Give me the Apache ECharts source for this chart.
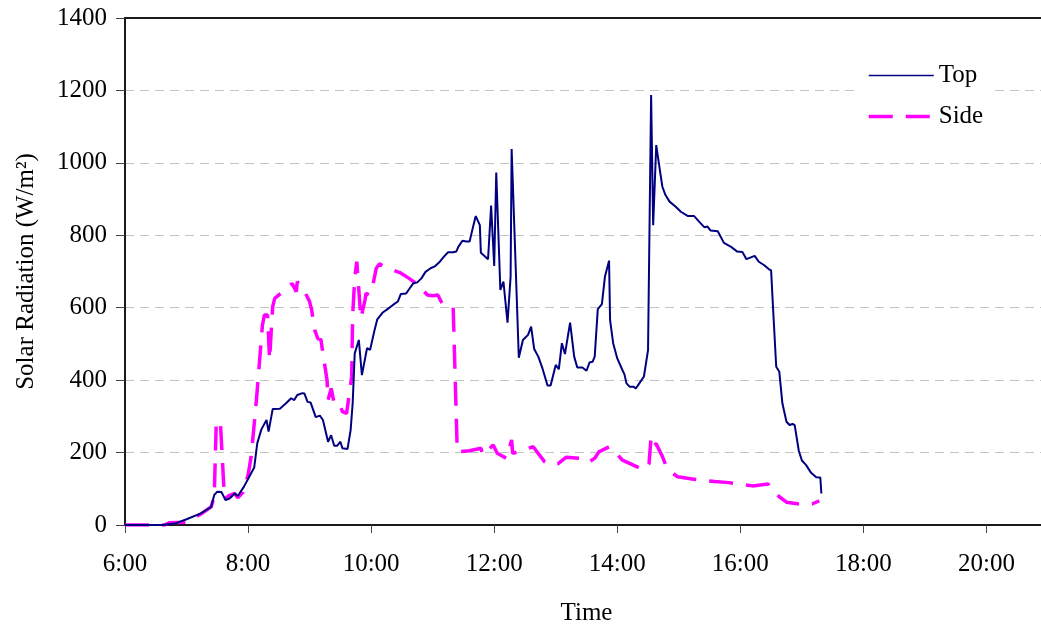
<!DOCTYPE html>
<html>
<head>
<meta charset="utf-8">
<script src="https://cdn.jsdelivr.net/npm/echarts@6/dist/echarts.min.js"></script>
<style>
  html, body { margin: 0; padding: 0; background: #fff; }
  #chart { width: 1041px; height: 630px; }
</style>
</head>
<body>
<div id="chart"></div>
<script>
// Top sensor
var topTimes = ["6:00","6:37","6:50","7:00","7:14","7:24","7:27","7:30","7:34","7:38","7:42","7:47","7:50","7:56",
  "8:06","8:09","8:13","8:18","8:20","8:24","8:31","8:37","8:42","8:45","8:48","8:53","8:55","8:58",
  "9:01","9:06","9:10","9:13","9:18","9:21","9:24","9:27","9:30","9:32","9:37","9:40","9:42","9:44","9:48","9:51","9:56","9:59",
  "10:03","10:06","10:11","10:16","10:21","10:26","10:29","10:34","10:37","10:41","10:45","10:49","10:53","10:58",
  "11:02","11:07","11:11","11:15","11:20","11:23","11:25","11:29","11:33","11:36","11:39","11:42","11:46","11:47","11:54","11:57",
  "12:00","12:02","12:06","12:09","12:13","12:16","12:17","12:24","12:28","12:33","12:36","12:39","12:43","12:47","12:52","12:55",
  "13:00","13:03","13:06","13:09","13:14","13:18","13:21","13:26","13:30","13:33","13:36","13:38","13:41","13:45","13:48","13:52","13:53","13:56",
  "14:00","14:05","14:07","14:09","14:12","14:16","14:18","14:21","14:26","14:30","14:33","14:35","14:38","14:42","14:44","14:47","14:51","14:57",
  "15:02","15:09","15:15","15:20","15:25","15:28","15:31","15:38","15:44","15:51","15:57",
  "16:02","16:06","16:14","16:18","16:23","16:28","16:30","16:32","16:35","16:38","16:41","16:45","16:48","16:51","16:53","16:57",
  "17:00","17:04","17:09","17:14","17:18","17:19"];
var topValues = [0,0,5,16,32,50,83,92,91,69,73,87,80,106,
  159,226,264,290,258,320,321,336,350,345,359,364,363,340,
  338,298,302,290,230,248,219,219,230,212,210,262,336,474,511,414,488,484,
  534,568,586,596,607,617,638,639,651,667,670,681,699,709,
  714,727,741,753,753,755,768,785,783,783,819,853,828,752,734,882,
  715,973,649,672,559,686,1038,462,511,525,548,486,465,433,385,385,
  442,430,502,472,559,465,435,435,426,449,451,465,596,610,686,730,566,502,
  460,428,416,391,382,382,377,389,410,483,1187,828,1049,971,934,911,893,879,
  865,853,853,837,822,824,813,811,779,768,755,
  754,734,743,727,718,706,703,594,437,423,336,285,276,279,276,205,
  178,166,144,132,131,87];

// Side sensor
var sideTimes = ["6:00","6:24","6:39","6:43","7:00","7:15","7:24","7:27","7:29","7:33","7:37","7:42","7:47","7:50","7:55",
  "8:00","8:03","8:08","8:11","8:14","8:16","8:19","8:21","8:23","8:24","8:26","8:36","8:43","8:47","8:48","8:55",
  "9:00","9:02","9:05","9:08","9:11","9:14","9:17","9:18","9:21","9:24","9:29","9:32","9:36","9:39","9:41","9:42","9:44","9:46","9:50","9:54","9:55","9:58",
  "10:02","10:05","10:08","10:13","10:28","10:37","10:44","10:55",
  "11:00","11:05","11:10","11:20","11:24","11:36","11:47","11:49","11:54","11:59",
  "12:03","12:12","12:17","12:18","12:23","12:28","12:38","12:49","12:55",
  "13:02","13:10","13:23","13:31","13:38","13:42","13:52","13:59",
  "14:05","14:12","14:26","14:31","14:33","14:36","14:38","14:44","14:48","14:54","14:59",
  "15:13","15:35","15:49","16:12","16:27","16:31","16:38","16:45","16:58","17:10","17:17"];
var sideValues = [0,0,0,6,8,32,50,78,285,285,72,82,87,75,90,
  138,189,340,446,552,580,580,456,557,603,626,649,667,644,672,645,
  617,594,538,515,512,456,400,345,377,336,336,313,308,368,409,580,681,727,571,621,640,635,
  667,709,721,713,697,681,667,635,
  633,635,607,600,202,205,212,193,207,221,
  198,184,235,198,202,207,216,175,166,
  169,187,184,172,184,202,216,198,
  179,170,152,170,244,221,224,189,161,143,133,
  127,120,117,108,113,97,78,63,58,58,67];

var yTicks = [0, 200, 400, 600, 800, 1000, 1200, 1400];

function toHours(t) {
  var p = t.split(":");
  return Number(p[0]) + Number(p[1]) / 60;
}
function pairs(times, values) {
  return times.map(function (t, i) { return [toHours(t), values[i]]; });
}

var font = "Liberation Serif, Times New Roman, serif";
var chart = echarts.init(document.getElementById("chart"));
chart.setOption({
  animation: false,
  backgroundColor: "#fff",
  textStyle: { fontFamily: font, color: "#000" },
  grid: {
    left: 125,
    top: 18,
    width: 923,
    height: 507,
    outerBoundsMode: "none"
  },
  legend: {
    orient: "vertical",
    left: 855,
    top: 55,
    padding: [8, 8, 8, 12],
    itemGap: 16,
    itemWidth: 65,
    itemHeight: 14,
    backgroundColor: "#fff",
    itemStyle: { opacity: 0 },
    textStyle: { fontFamily: font, fontSize: 25, color: "#000" },
    data: [
      { name: "Top", lineStyle: { width: 1.5 } },
      { name: "Side", lineStyle: { width: 3.5 } }
    ]
  },
  xAxis: [
    {
      type: "value",
      min: 6,
      max: 21,
      interval: 2,
      name: "Time",
      nameLocation: "middle",
      nameGap: 76,
      nameTextStyle: { fontFamily: font, fontSize: 25, color: "#000" },
      axisLine: { lineStyle: { color: "#1a1a1a", width: 2 } },
      axisTick: { length: 8, lineStyle: { color: "#444" } },
      axisLabel: {
        margin: 27,
        fontFamily: font,
        fontSize: 25,
        color: "#000",
        showMaxLabel: false,
        formatter: function (v) { return v + ":00"; }
      },
      splitLine: { show: false }
    },
    {
      // plain top border of the plot area
      type: "value",
      position: "top",
      min: 6,
      max: 21,
      z: 10,
      axisLine: { show: true, lineStyle: { color: "#1a1a1a", width: 2 } },
      axisTick: { show: false },
      axisLabel: { show: false },
      splitLine: { show: false }
    }
  ],
  yAxis: {
    type: "value",
    min: yTicks[0],
    max: yTicks[yTicks.length - 1],
    interval: 200,
    name: "Solar Radiation (W/m²)",
    nameLocation: "middle",
    nameGap: 86,
    nameTextStyle: { fontFamily: font, fontSize: 25, color: "#000" },
    axisLine: { show: true, lineStyle: { color: "#1a1a1a", width: 2 } },
    axisTick: { show: true, length: 9, lineStyle: { color: "#444" } },
    axisLabel: {
      margin: 18,
      fontFamily: font,
      fontSize: 25,
      color: "#000",
      formatter: function (v) { return String(v); }
    },
    splitLine: { lineStyle: { color: "#c4c4c4", type: [9, 6], width: 1 } }
  },
  series: [
    {
      name: "Top",
      type: "line",
      symbol: "none",
      data: pairs(topTimes, topValues),
      lineStyle: { color: "#000080", width: 2 },
      itemStyle: { color: "#000080" },
      z: 3
    },
    {
      name: "Side",
      type: "line",
      symbol: "none",
      data: pairs(sideTimes, sideValues),
      lineStyle: { color: "#ff00ff", width: 3.5, type: [24, 13] },
      itemStyle: { color: "#ff00ff" },
      z: 2
    }
  ]
});
</script>
</body>
</html>
